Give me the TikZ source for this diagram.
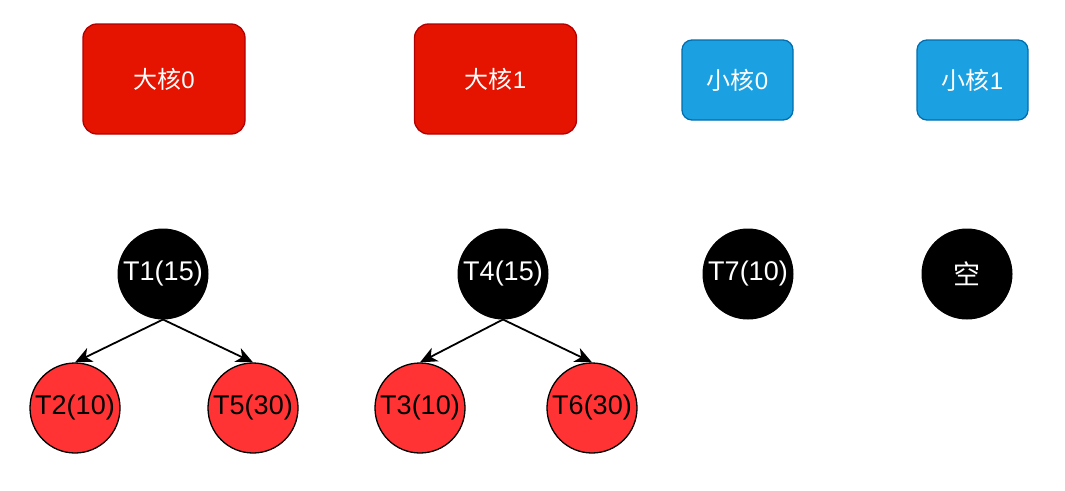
\documentclass[tikz,border=0pt]{standalone}
\usepackage{fontspec}
\setmainfont{Liberation Sans}
\newfontfamily\cjk{Noto Sans CJK SC}
\usetikzlibrary{arrows.meta}
\definecolor{bigfill}{HTML}{E51400}
\definecolor{bigline}{HTML}{B20000}
\definecolor{smallfill}{HTML}{1BA1E2}
\definecolor{smallline}{HTML}{006EAF}
\definecolor{redfill}{HTML}{FF3333}
\begin{document}
\begin{tikzpicture}[x=1pt,y=-1pt,
  bigcore/.style={draw=bigline,fill=bigfill,line width=1.3pt,rounded corners=14pt,minimum width=162pt,minimum height=110pt,inner sep=0pt,text=white,font=\fontsize{24}{27}\selectfont},
  smallcore/.style={draw=smallline,fill=smallfill,line width=1.3pt,rounded corners=10pt,minimum width=111pt,minimum height=80pt,inner sep=0pt,text=white,font=\fontsize{24}{27}\selectfont},
  blacknode/.style={circle,draw=black,fill=black,line width=1pt,minimum size=90pt,inner sep=0pt,text=white,font=\fontsize{27}{30}\selectfont},
  rednode/.style={circle,draw=black,fill=redfill,line width=1.3pt,minimum size=90pt,inner sep=0pt,text=black,font=\fontsize{27}{30}\selectfont},
  link/.style={draw=black,line width=1.8pt,-{Stealth[length=17pt,width=15pt,inset=5pt]}}
]
\useasboundingbox (0,0) rectangle (1065,490);
\node[bigcore] (b0) at (164,79) {{\cjk 大核}0};
\node[bigcore] (b1) at (495.5,79) {{\cjk 大核}1};
\node[smallcore] (s0) at (737.5,80) {{\cjk 小核}0};
\node[smallcore] (s1) at (972.5,80) {{\cjk 小核}1};
\node[blacknode] (t1) at (163,274) {T1(15)};
\node[blacknode] (t4) at (503,274) {T4(15)};
\node[blacknode] (t7) at (748,274) {T7(10)};
\node[blacknode] (e) at (967,274) {\cjk 空};
\node[rednode] (t2) at (75,408) {T2(10)};
\node[rednode] (t5) at (253,408) {T5(30)};
\node[rednode] (t3) at (420,408) {T3(10)};
\node[rednode] (t6) at (592,408) {T6(30)};
\draw[link] (t1.south) -- (t2.north);
\draw[link] (t1.south) -- (t5.north);
\draw[link] (t4.south) -- (t3.north);
\draw[link] (t4.south) -- (t6.north);
\end{tikzpicture}
\end{document}
